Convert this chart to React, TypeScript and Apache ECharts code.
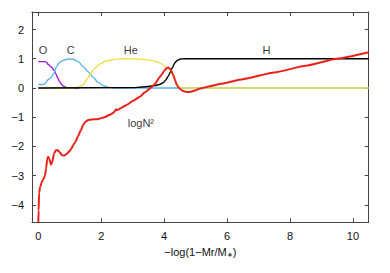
import React, { useEffect, useRef } from "react";
import * as echarts from "echarts";

const xRange = [-0.2, 10.5];
const yRange = [-4.6, 2.6];

const oxygen: [number, number][] = [
  [0, 0.9], [0.2, 0.9], [0.26, 0.88], [0.32, 0.8], [0.38, 0.74], [0.44, 0.69], [0.5, 0.6],
  [0.56, 0.48], [0.62, 0.34], [0.68, 0.21], [0.74, 0.12], [0.8, 0.06], [0.88, 0.02], [1.0, 0], [1.3, 0],
];

const carbon: [number, number][] = [
  [0, 0.12], [0.15, 0.12], [0.22, 0.15], [0.3, 0.27], [0.36, 0.32], [0.42, 0.37], [0.49, 0.5],
  [0.58, 0.73], [0.66, 0.86], [0.79, 0.95], [0.95, 0.99], [1.11, 0.98], [1.27, 0.9], [1.43, 0.73],
  [1.58, 0.56], [1.74, 0.37], [1.9, 0.19], [2.06, 0.08], [2.22, 0.02], [2.4, 0], [10.5, 0],
];

const helium: [number, number][] = [
  [0, 0], [1.1, 0], [1.22, 0.02], [1.32, 0.05], [1.43, 0.12], [1.54, 0.28], [1.64, 0.45],
  [1.72, 0.58], [1.8, 0.68], [1.96, 0.82], [2.17, 0.93], [2.49, 0.985], [2.9, 1.0], [3.2, 0.99],
  [3.5, 0.96], [3.71, 0.91], [3.9, 0.84], [4.03, 0.74], [4.15, 0.64], [4.24, 0.52], [4.32, 0.33],
  [4.4, 0.14], [4.47, 0.04], [4.55, 0], [10.5, 0],
];

const hydrogen: [number, number][] = [
  [0, 0], [3.0, 0.01], [3.3, 0.03], [3.5, 0.05], [3.71, 0.08], [3.85, 0.12], [3.97, 0.18],
  [4.05, 0.27], [4.13, 0.4], [4.2, 0.55], [4.26, 0.7], [4.34, 0.86], [4.42, 0.95], [4.52, 0.99],
  [4.65, 1.0], [10.5, 1.0],
];

const logN2: [number, number][] = [
  [0.0, -4.6], [0.01, -4.2], [0.025, -3.6], [0.06, -3.4], [0.1, -3.25], [0.16, -3.12], [0.21, -3.02],
  [0.25, -2.75], [0.28, -2.45], [0.31, -2.36], [0.35, -2.42], [0.4, -2.62], [0.44, -2.55], [0.5, -2.25],
  [0.56, -2.13], [0.62, -2.13], [0.68, -2.2], [0.75, -2.3], [0.82, -2.32], [0.9, -2.26], [0.98, -2.18],
  [1.05, -2.08], [1.11, -1.95], [1.18, -1.85], [1.27, -1.64], [1.35, -1.45], [1.43, -1.26], [1.5, -1.16],
  [1.58, -1.1], [1.7, -1.08], [1.85, -1.07], [1.96, -1.05], [2.1, -1.0], [2.28, -0.92], [2.4, -0.84],
  [2.44, -0.78], [2.47, -0.73], [2.5, -0.76], [2.55, -0.74], [2.6, -0.7], [2.81, -0.58], [3.0, -0.45],
  [3.23, -0.3], [3.39, -0.15], [3.55, -0.02], [3.71, 0.14], [3.85, 0.36], [3.92, 0.46], [4.0, 0.58],
  [4.07, 0.67], [4.13, 0.7], [4.2, 0.64], [4.29, 0.44], [4.35, 0.26], [4.4, 0.1], [4.47, 0.0],
  [4.56, -0.08], [4.65, -0.12], [4.75, -0.14], [4.85, -0.13], [5.0, -0.08], [5.14, -0.02], [5.46, 0.06],
  [5.8, 0.14], [6.5, 0.3], [7.5, 0.53], [8.5, 0.76], [9.49, 1.0], [10.5, 1.22],
];

const curveLabels: { name: string; value: [number, number] }[] = [
  { name: "O", value: [0.15, 1.3] },
  { name: "C", value: [1.03, 1.3] },
  { name: "He", value: [2.94, 1.31] },
  { name: "H", value: [7.25, 1.3] },
  { name: "logN²", value: [3.26, -1.19] },
];

const FONT = "Liberation Sans, Arial, sans-serif";
const AXIS_COLOR = "#444";

function fmt(v: number) {
  if (Math.abs(v - Math.round(v)) > 1e-6) return "";
  return String(Math.round(v)).replace("-", "\u2212");
}

export default function App() {
  const ref = useRef<HTMLDivElement>(null);
  useEffect(() => {
    if (!ref.current) return;
    const chart = echarts.init(ref.current, undefined, { renderer: "svg" });
    const axisCommon = {
      type: "value" as const,
      splitLine: { show: false },
      axisLine: { show: true, onZero: false, lineStyle: { color: AXIS_COLOR, width: 1 } },
      axisTick: { show: true, inside: true, length: 4, lineStyle: { color: AXIS_COLOR } },
    };
    const lineSeries = (data: [number, number][], color: string, width: number, smooth: number) => ({
      type: "line" as const,
      data,
      showSymbol: false,
      symbol: "none",
      smooth,
      smoothMonotone: "x" as const,
      lineStyle: { color, width },
      clip: true,
      z: 2,
    });
    chart.setOption({
      animation: false,
      grid: { left: 32, right: 21.3, top: 12, bottom: 50.7 },
      xAxis: [
        {
          ...axisCommon,
          min: xRange[0],
          max: xRange[1],
          splitNumber: 5,
          position: "bottom",
          axisLabel: { formatter: fmt, fontFamily: FONT, fontSize: 11, color: "#111", margin: 8 },
          name: "\u2212log(1\u2212Mr/M{s|\u2217})",
          nameLocation: "middle",
          nameGap: 23,
          nameTextStyle: {
            fontFamily: FONT,
            fontSize: 11,
            color: "#111",
            rich: { s: { fontFamily: FONT, fontSize: 7, color: "#111", padding: [6, 0, 0, 0] } },
          },
        },
        {
          ...axisCommon,
          min: xRange[0],
          max: xRange[1],
          splitNumber: 5,
          position: "top",
          axisLabel: { show: false },
        },
      ],
      yAxis: [
        {
          ...axisCommon,
          min: yRange[0],
          max: yRange[1],
          splitNumber: 7,
          position: "left",
          axisLabel: { formatter: fmt, fontFamily: FONT, fontSize: 11, color: "#111", margin: 8 },
        },
        {
          ...axisCommon,
          min: yRange[0],
          max: yRange[1],
          splitNumber: 7,
          position: "right",
          axisLabel: { show: false },
        },
      ],
      series: [
        lineSeries(oxygen, "#9c1cd8", 1.4, 0.3),
        lineSeries(carbon, "#56b4e9", 1.4, 0.3),
        lineSeries(helium, "#efe04a", 1.4, 0.3),
        lineSeries(hydrogen, "#000000", 1.4, 0.3),
        lineSeries(logN2, "#e8221a", 2, 0.15),
        {
          type: "scatter",
          data: curveLabels,
          symbolSize: 0,
          itemStyle: { color: "#000" },
          z: 5,
          label: {
            show: true,
            position: "inside",
            formatter: (p: any) => p.name,
            fontFamily: FONT,
            fontSize: 11,
            color: "#000",
            textBorderWidth: 0,
          },
        },
      ],
    });
    return () => chart.dispose();
  }, []);
  return (
    <div
      ref={ref}
      style={{ position: "fixed", left: 0, top: 0, width: 390, height: 273, background: "#fff" }}
    />
  );
}
